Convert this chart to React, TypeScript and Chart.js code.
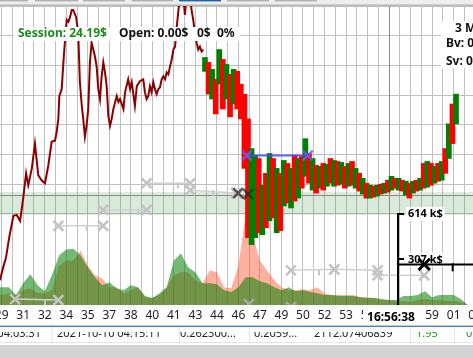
import { useEffect, useRef } from "react";
import { Chart, registerables } from "chart.js";

Chart.register(...registerables);

const W = 473;
const H = 358;
const FONT = '"Noto Sans", "Open Sans", sans-serif';

// time axis: seconds after 16:29:00
const TIME_MIN = 22.9;
const TIME_MAX = 2001;
const GRID_FIRST = 30;
const GRID_STEP = 45;
const GRID_LAST = 2010;
const BASE_MINUTE = 29;

// price (arbitrary price units)
const PRICE_MIN = 998;
const PRICE_MAX = 1300;
const PRICE_GRID_STEP = 30;
const PRICE_GRID_LOW = 1090;

const priceTimes = [
  23, 35, 48, 62, 79, 93, 107, 120, 132, 141,
  156, 169, 183, 197, 211, 225, 239, 253, 260, 267,
  271, 281, 288, 295, 302, 309, 316, 323, 329, 341,
  350, 357, 365, 371, 378, 385, 392, 399, 406, 413,
  420, 427, 434, 441, 448, 455, 462, 469, 476, 483,
  490, 497, 511, 518, 525, 539, 546, 559, 567, 574,
  587, 595, 608, 622, 629, 636, 643, 650, 657, 664,
  671, 678, 685, 692, 699, 706, 713, 720, 727, 734,
  741, 748, 755, 762, 768, 776, 783, 789, 796, 804,
  817, 824, 831, 838, 845, 852, 859, 866, 873,
];
const priceValues = [
  1023, 1035, 1046, 1067, 1088, 1089, 1083, 1106, 1131, 1119,
  1136, 1161, 1129, 1124, 1121, 1139, 1163, 1164, 1173, 1186,
  1209, 1216, 1243, 1266, 1286, 1284, 1289, 1296, 1296, 1289,
  1273, 1223, 1199, 1186, 1168, 1179, 1196, 1243, 1263, 1256,
  1249, 1239, 1216, 1206, 1229, 1243, 1233, 1219, 1189, 1179,
  1186, 1196, 1209, 1203, 1206, 1196, 1213, 1226, 1216, 1223,
  1199, 1219, 1224, 1226, 1213, 1206, 1209, 1219, 1213, 1223,
  1216, 1211, 1216, 1218, 1226, 1229, 1226, 1233, 1231, 1239,
  1246, 1256, 1259, 1279, 1293, 1310, 1312, 1312, 1291, 1312,
  1312, 1296, 1286, 1273, 1263, 1256, 1259, 1254, 1256,
];

const CANDLE_START = 880;
const CANDLE_STEP = 15;
const candleOpen = [
  1234, 1243, 1206, 1226, 1221, 1246, 1206, 1231, 1201, 1234,
  1221, 1211, 1186, 1059, 1066, 1146, 1069, 1131, 1083, 1146,
  1071, 1131, 1098, 1141, 1096, 1149, 1106, 1148, 1128, 1151,
  1114, 1139, 1116, 1141, 1118, 1146, 1118, 1143, 1120, 1138,
  1118, 1143, 1116, 1131, 1110, 1121, 1106, 1118, 1108, 1120,
  1111, 1124, 1114, 1126, 1114, 1124, 1109, 1121, 1111, 1124,
  1114, 1141, 1117, 1141, 1121, 1141, 1124, 1156, 1146, 1201,
  1181,
];
const candleClose = [
  1248, 1211, 1236, 1191, 1256, 1196, 1241, 1188, 1236, 1196,
  1186, 1136, 1066, 1156, 1149, 1071, 1119, 1076, 1151, 1086,
  1136, 1073, 1144, 1101, 1136, 1103, 1146, 1116, 1166, 1121,
  1146, 1111, 1138, 1114, 1140, 1121, 1144, 1119, 1142, 1116,
  1141, 1119, 1136, 1113, 1126, 1106, 1119, 1107, 1119, 1110,
  1121, 1112, 1128, 1116, 1126, 1113, 1123, 1106, 1123, 1113,
  1126, 1116, 1143, 1119, 1138, 1123, 1143, 1131, 1181, 1161,
  1211,
];

// volume in k$
const VOL_START = 0;
const VOL_STEP = 30;
const VOL_MAX = 2016;
const buyVolume = [
  120, 120, 120, 67, 147, 207, 133, 93, 200, 334,
  374, 380, 334, 254, 187, 133, 153, 113, 100, 133,
  120, 60, 47, 80, 120, 300, 347, 254, 220, 147,
  147, 140, 100, 87, 120, 187, 187, 160, 147, 120,
  100, 120, 93, 100, 87, 80, 67, 67, 60, 60,
  60, 53, 47, 47, 40, 33, 33, 60, 60, 67,
  93, 53, 67, 67, 67, 40, 0,
];
const sellVolume = [
  67, 67, 80, 67, 100, 113, 80, 80, 100, 267,
  300, 300, 367, 267, 200, 180, 120, 120, 80, 100,
  120, 53, 47, 67, 120, 200, 220, 220, 167, 147,
  233, 220, 120, 113, 267, 607, 467, 300, 233, 167,
  120, 100, 100, 107, 100, 120, 80, 67, 67, 67,
  67, 53, 53, 47, 33, 33, 27, 27, 20, 33,
  40, 33, 33, 27, 27, 20, 0,
];
const volAxisTicks = [307, 614];
const VOL_AXIS_TIME = 1687;

// closed trades (gray)
const tradeEntryTime = [86, 267, 454, 636, 818, 1240, 1421, 1602];
const tradeEntryPrice = [1004, 1078, 1094, 1121, 1114, 1033, 1034, 1028];
const tradeExitTime = [267, 454, 636, 818, 1010, 1421, 1602, 1797];
const tradeExitPrice = [1003, 1078, 1094, 1121, 1111, 1034, 1033, 1028];
const tradeTickTime = [211, 386, 600, 767, 914, 1357];
const tradeTickPrice = [1001, 1076, 1092, 1119, 1111, 1031];
const looseMarkTime = [1064, 1240];
const looseMarkPrice = [999, 996];
const darkMarkTime = [1019, 1061];
const darkMarkPrice = [1111, 1110];

// open trade (blue) and order line (black)
const openTradeTime = [1055, 1310];
const openTradePrice = [1149, 1149];
const ORDER_PRICE = 1039;
const ORDER_MARK_TIME = 1797;
const ORDER_TICK_TIME = 1916;
const ORDER_TICK_PRICE = 1036;

const BAND_LOW = 1089;
const BAND_HIGH = 1112;
const CROSS_TIME = 1658;
const CROSS_PRICE = 1109;

const sessionTexts = ["Session: 24.19$", "Open: 0.00$", "0$", "0%"];
const infoTexts = ["3 Min", "Bv: 0.00", "Sv: 0.00"];
const tableCells = [
  { text: "2021-10-10 04:03:31", x: 41, align: "right", color: "#222" },
  { text: "2021-10-10 04:15:11", x: 57, align: "left", color: "#222" },
  { text: "0.262300...", x: 180, align: "left", color: "#222" },
  { text: "0.2059...", x: 254, align: "left", color: "#222" },
  { text: "2112.07406839", x: 314, align: "left", color: "#222" },
  { text: "1.95", x: 416, align: "left", color: "#1a9a1a" },
  { text: "0.82", x: 466, align: "left", color: "#1a9a1a" },
];

function clock(sec: number) {
  const total = BASE_MINUTE * 60 + sec;
  const h = 16 + Math.floor(total / 3600);
  const m = Math.floor((total % 3600) / 60);
  const s = Math.floor(total % 60);
  const p = (n: number) => String(n).padStart(2, "0");
  return `${h}:${p(m)}:${p(s)}`;
}

const decor = {
  id: "decor",
  beforeDatasetsDraw(chart: any) {
    const { ctx, chartArea: a, scales } = chart;
    const x = scales.x, y = scales.y, yv = scales.yv;
    ctx.save();
    const t = y.getPixelForValue(BAND_HIGH);
    const b = y.getPixelForValue(BAND_LOW);
    ctx.fillStyle = "rgba(70,150,70,0.2)";
    ctx.fillRect(a.left, t, a.right - a.left, b - t);
    // crosshair
    ctx.strokeStyle = "#8a8a8a";
    ctx.lineWidth = 1;
    const cx = Math.round(x.getPixelForValue(CROSS_TIME)) - 1.5;
    const cy = Math.round(y.getPixelForValue(CROSS_PRICE)) + 0.5;
    ctx.beginPath();
    ctx.moveTo(cx, a.top);
    ctx.lineTo(cx, a.bottom);
    ctx.moveTo(a.left, cy);
    ctx.lineTo(a.right, cy);
    ctx.stroke();
    // volume scale labels
    const ax = x.getPixelForValue(VOL_AXIS_TIME);
    ctx.font = `bold 11px ${FONT}`;
    ctx.textBaseline = "middle";
    ctx.textAlign = "left";
    for (const v of volAxisTicks) {
      const py = yv.getPixelForValue(v);
      const label = `${v} k$`;
      const w = ctx.measureText(label).width;
      ctx.fillStyle = "#fff";
      ctx.fillRect(ax + 8, py - 7, w + 4, 14);
      ctx.fillStyle = "#000";
      ctx.fillText(label, ax + 10, py);
    }
    ctx.restore();
  },
  afterDatasetsDraw(chart: any) {
    const { ctx, chartArea: a, scales } = chart;
    const x = scales.x, yv = scales.yv;
    ctx.save();
    const ax = Math.round(x.getPixelForValue(VOL_AXIS_TIME));
    const topV = yv.getPixelForValue(volAxisTicks[volAxisTicks.length - 1]);
    ctx.strokeStyle = "#000";
    ctx.lineWidth = 2;
    ctx.beginPath();
    ctx.moveTo(ax, topV - 1);
    ctx.lineTo(ax, a.bottom);
    for (const v of volAxisTicks) {
      const py = Math.round(yv.getPixelForValue(v));
      ctx.moveTo(ax, py);
      ctx.lineTo(ax + 6, py);
    }
    ctx.stroke();
    ctx.restore();
  },
  afterDraw(chart: any) {
    const { ctx, scales } = chart;
    const x = scales.x;
    ctx.save();
    // tab strip at the top
    ctx.fillStyle = "#eeeeee";
    ctx.fillRect(0, 0, W, 4.5);
    const tabs = [[0, 28], [35, 78], [83, 125], [132, 173], [179, 221], [227, 269], [275, 317]];
    tabs.forEach(([l, r], i) => {
      ctx.fillStyle = i === 4 ? "#2160b0" : "#b0b0b0";
      ctx.fillRect(l, 0, r - l, 1.4);
    });
    ctx.fillStyle = "#a8a8a8";
    ctx.fillRect(0, 4.5, W, 1.3);

    // session info box
    ctx.font = `bold 12px ${FONT}`;
    ctx.textBaseline = "middle";
    ctx.textAlign = "left";
    ctx.fillStyle = "#fff";
    ctx.fillRect(14, 27, 226, 14);
    const sx = [18, 119, 197, 217];
    sessionTexts.forEach((t, i) => {
      ctx.fillStyle = i === 0 ? "#1a8a1a" : "#111";
      ctx.fillText(t, sx[i], 34);
    });
    // right info box
    ctx.fillStyle = "#fff";
    ctx.fillRect(441, 21, 40, 47);
    ctx.fillStyle = "#111";
    ctx.fillText(infoTexts[0], 455, 29);
    ctx.fillText(infoTexts[1], 446, 44);
    ctx.fillText(infoTexts[2], 446, 61.5);

    // crosshair time label
    const cx = x.getPixelForValue(CROSS_TIME);
    const label = clock(CROSS_TIME);
    const lw = ctx.measureText(label).width;
    ctx.fillStyle = "#fff";
    ctx.fillRect(cx - lw / 2 - 4, 309, lw + 8, 16);
    ctx.fillStyle = "#000";
    ctx.textAlign = "center";
    ctx.fillText(label, cx, 318);

    // trades table strip
    ctx.fillStyle = "#fff";
    ctx.fillRect(0, 325, W, 20);
    ctx.fillStyle = "#c8c8c8";
    ctx.fillRect(0, 325, W, 1);
    ctx.fillStyle = "#3d85d8";
    ctx.fillRect(0, 326, W, 1);
    ctx.fillStyle = "#e4e4e4";
    for (const cxs of [51.5, 179, 249, 410, 454]) ctx.fillRect(cxs, 327, 1, 17);
    ctx.fillRect(0, 342, W, 1);
    ctx.save();
    ctx.beginPath();
    ctx.rect(0, 332, W, 10);
    ctx.clip();
    ctx.font = `11px ${FONT}`;
    ctx.textBaseline = "alphabetic";
    for (const c of tableCells) {
      ctx.textAlign = c.align as CanvasTextAlign;
      ctx.fillStyle = c.color;
      ctx.fillText(c.text, c.x, 337);
    }
    ctx.restore();
    ctx.fillStyle = "#d2d2d2";
    ctx.fillRect(0, 345, W, H - 345);
    ctx.restore();
  },
};

export default function App() {
  const ref = useRef<HTMLCanvasElement>(null);
  useEffect(() => {
    const canvas = ref.current!;
    const pt = (t: number, v: number) => ({ x: t, y: v });
    const datasets: any[] = [];

    datasets.push({
      label: "sell volume",
      type: "line",
      yAxisID: "yv",
      data: sellVolume.map((v, i) => pt(VOL_START + i * VOL_STEP, v)),
      borderWidth: 0,
      backgroundColor: "rgba(255,80,40,0.45)",
      fill: "origin",
      pointRadius: 0,
      order: 20,
    });
    datasets.push({
      label: "buy volume",
      type: "line",
      yAxisID: "yv",
      data: buyVolume.map((v, i) => pt(VOL_START + i * VOL_STEP, v)),
      borderWidth: 0,
      backgroundColor: "rgba(0,128,0,0.55)",
      fill: "origin",
      pointRadius: 0,
      order: 19,
    });
    datasets.push({
      label: "price",
      type: "line",
      yAxisID: "y",
      data: priceTimes.map((t, i) => pt(t, priceValues[i])),
      borderColor: "#8b0000",
      borderWidth: 2,
      pointRadius: 0,
      tension: 0,
      fill: false,
      order: 10,
    });
    datasets.push({
      label: "candles",
      type: "bar",
      yAxisID: "y",
      data: candleOpen.map((o, i) => ({ x: CANDLE_START + i * CANDLE_STEP, y: [o, candleClose[i]] })),
      backgroundColor: candleOpen.map((o, i) => (candleClose[i] >= o ? "#008000" : "#ff0000")),
      borderWidth: 0,
      barThickness: 5,
      grouped: false,
      order: 9,
    });
    tradeEntryTime.forEach((t, i) => {
      datasets.push({
        label: `trade ${i}`,
        type: "line",
        yAxisID: "y",
        data: [pt(t, tradeEntryPrice[i]), pt(tradeExitTime[i], tradeExitPrice[i])],
        borderColor: "#cfcfcf",
        borderWidth: 1.5,
        pointStyle: "crossRot",
        pointRadius: 7,
        pointBorderWidth: 2.5,
        pointBorderColor: "#c4c4c4",
        fill: false,
        order: 5,
      });
    });
    datasets.push({
      label: "trade ticks",
      type: "scatter",
      yAxisID: "y",
      data: tradeTickTime.map((t, i) => pt(t, tradeTickPrice[i])),
      pointStyle: "line",
      rotation: 90,
      pointRadius: 3,
      pointBorderWidth: 2,
      pointBorderColor: "#c4c4c4",
      order: 5,
    });
    datasets.push({
      label: "loose marks",
      type: "scatter",
      yAxisID: "y",
      data: looseMarkTime.map((t, i) => pt(t, looseMarkPrice[i])),
      pointStyle: "crossRot",
      pointRadius: 7,
      pointBorderWidth: 2.5,
      pointBorderColor: "#a8a8a8",
      order: 5,
    });
    datasets.push({
      label: "dark marks",
      type: "scatter",
      yAxisID: "y",
      data: darkMarkTime.map((t, i) => pt(t, darkMarkPrice[i])),
      pointStyle: "crossRot",
      pointRadius: 7,
      pointBorderWidth: 2.5,
      pointBorderColor: "rgba(40,40,40,0.75)",
      order: 4,
    });
    datasets.push({
      label: "open trade",
      type: "line",
      yAxisID: "y",
      data: openTradeTime.map((t, i) => pt(t, openTradePrice[i])),
      borderColor: "rgba(70,70,255,0.85)",
      borderWidth: 2,
      pointStyle: "crossRot",
      pointRadius: 7,
      pointBorderWidth: 2.5,
      pointBorderColor: "rgba(110,90,240,0.85)",
      fill: false,
      order: 3,
    });
    datasets.push({
      label: "order line",
      type: "line",
      yAxisID: "y",
      data: [pt(VOL_AXIS_TIME, ORDER_PRICE), pt(TIME_MAX, ORDER_PRICE)],
      borderColor: "#000",
      borderWidth: 2,
      pointRadius: 0,
      fill: false,
      order: 2,
    });
    datasets.push({
      label: "order mark",
      type: "scatter",
      yAxisID: "y",
      data: [pt(ORDER_MARK_TIME, ORDER_PRICE)],
      pointStyle: "crossRot",
      pointRadius: 8,
      pointBorderWidth: 3,
      pointBorderColor: "#000",
      order: 1,
    });
    datasets.push({
      label: "order tick",
      type: "scatter",
      yAxisID: "y",
      data: [pt(ORDER_TICK_TIME, ORDER_TICK_PRICE)],
      pointStyle: "line",
      rotation: 90,
      pointRadius: 4,
      pointBorderWidth: 2,
      pointBorderColor: "#000",
      order: 1,
    });

    const chart = new Chart(canvas, {
      type: "line",
      data: { datasets },
      plugins: [decor],
      options: {
        responsive: false,
        animation: false,
        events: [],
        devicePixelRatio: 1,
        layout: { autoPadding: false, padding: { top: 6, bottom: 32.6, left: 0, right: 0 } },
        plugins: { legend: { display: false }, tooltip: { enabled: false } },
        scales: {
          x: {
            type: "linear",
            position: "bottom",
            min: TIME_MIN,
            max: TIME_MAX,
            offset: false,
            grid: { color: "#c0c0c0", lineWidth: 1, drawTicks: false, offset: false },
            border: { display: false },
            ticks: {
              autoSkip: false,
              maxRotation: 0,
              padding: 3,
              color: "#1e1e1e",
              font: { family: FONT, size: 12 },
              callback: (value: any, index: number) =>
                index % 2 === 0 ? String((BASE_MINUTE + Math.floor(Number(value) / 60)) % 60).padStart(2, "0") : "",
            },
            afterBuildTicks: (scale: any) => {
              const ticks = [];
              for (let v = GRID_FIRST; v <= GRID_LAST; v += GRID_STEP) ticks.push({ value: v });
              scale.ticks = ticks;
            },
            afterFit: (scale: any) => {
              scale.paddingLeft = 0;
              scale.paddingRight = 0;
            },
          },
          y: {
            type: "linear",
            position: "left",
            min: PRICE_MIN,
            max: PRICE_MAX,
            beginAtZero: false,
            grid: {
              drawTicks: false,
              color: (c: any) => (c.tick && c.tick.value >= PRICE_GRID_LOW ? "#c0c0c0" : "rgba(0,0,0,0)"),
            },
            border: { display: false },
            ticks: { display: false },
            afterBuildTicks: (scale: any) => {
              const ticks = [];
              for (let v = PRICE_MAX; v >= PRICE_GRID_LOW; v -= PRICE_GRID_STEP) ticks.push({ value: v });
              scale.ticks = ticks;
            },
          },
          yv: {
            type: "linear",
            display: false,
            min: 0,
            max: VOL_MAX,
          },
        },
      } as any,
    });
    return () => chart.destroy();
  }, []);
  return (
    <div style={{ position: "fixed", left: 0, top: 0, width: W, height: H, background: "#fff" }}>
      <canvas ref={ref} width={W} height={H} style={{ display: "block", width: W, height: H }} />
    </div>
  );
}
